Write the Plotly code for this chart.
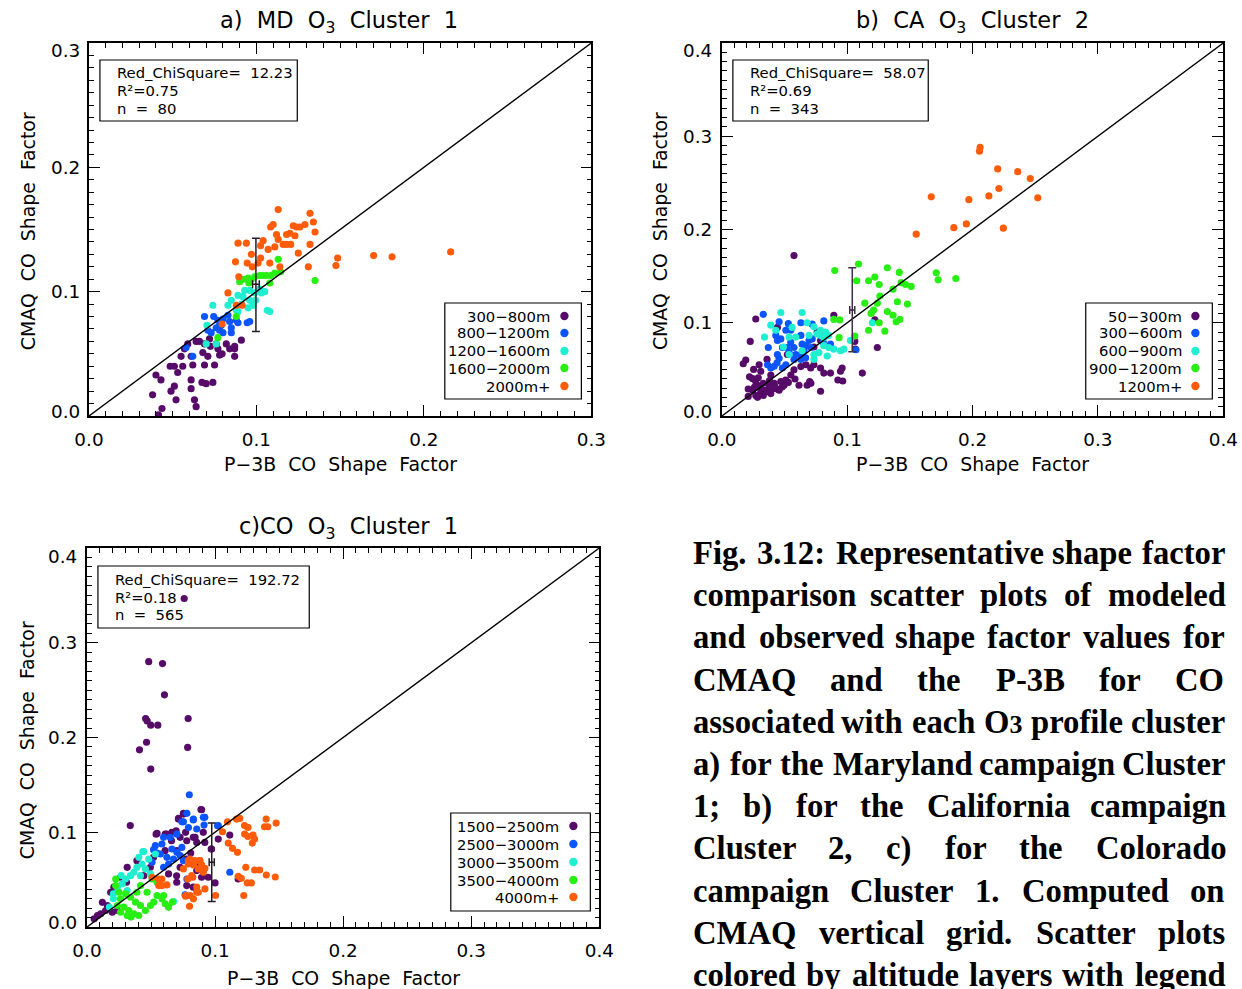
import plotly.graph_objects as go

# ---------------- DATA ----------------
a_labels = ["300−800m", "800−1200m", "1200−1600m", "1600−2000m", "2000m+"]
a_300_800 = [(0.0415,0.001),(0.0436,0.006),(0.038,0.017),(0.040,0.033),(0.043,0.029),(0.049,0.020),(0.051,0.024),
             (0.052,0.013),(0.0485,0.040),(0.051,0.040),(0.056,0.040),(0.053,0.035),(0.061,0.029),(0.061,0.022),
             (0.063,0.013),(0.064,0.0075),(0.062,0.041),(0.061,0.048),(0.055,0.048),(0.057,0.054),(0.059,0.058),
             (0.064,0.060),(0.066,0.060),(0.069,0.058),(0.068,0.051),(0.071,0.048),(0.069,0.041),(0.075,0.041),
             (0.0675,0.027),(0.070,0.026),(0.074,0.027),(0.077,0.054),(0.078,0.049),(0.082,0.058),(0.084,0.054),
             (0.087,0.054),(0.087,0.048),(0.087,0.056),(0.091,0.061),(0.076,0.058),(0.0725,0.056),(0.0795,0.050),
             (0.072,0.062)]
a_800_1200 = [(0.058,0.055),(0.062,0.048),(0.069,0.080),(0.071,0.069),(0.073,0.067),(0.076,0.071),(0.078,0.073),
              (0.077,0.077),(0.080,0.078),(0.083,0.081),(0.084,0.076),(0.085,0.071),(0.088,0.077),(0.089,0.075),
              (0.080,0.067),(0.078,0.069),(0.085,0.067),(0.0945,0.075),(0.096,0.076),(0.0745,0.080),(0.079,0.073)]
a_1200_1600 = [(0.0705,0.073),(0.074,0.089),(0.076,0.058),(0.083,0.089),(0.085,0.093),(0.088,0.085),(0.089,0.097),
               (0.092,0.096),(0.093,0.101),(0.096,0.101),(0.096,0.093),(0.095,0.087),(0.098,0.089),(0.099,0.099),
               (0.102,0.102),(0.103,0.099),(0.105,0.100),(0.0995,0.093),(0.1065,0.085),(0.108,0.084),(0.070,0.058),
               (0.089,0.084),(0.091,0.090)]
a_1600_2000 = [(0.077,0.063),(0.088,0.080),(0.090,0.108),(0.0925,0.110),(0.095,0.111),(0.097,0.110),(0.099,0.112),
               (0.102,0.113),(0.104,0.113),(0.106,0.113),(0.1085,0.113),(0.111,0.115),(0.1145,0.116),(0.113,0.126),
               (0.108,0.107),(0.135,0.109),(0.0955,0.107)]
a_2000_up = [(0.0795,0.074),(0.088,0.089),(0.0915,0.089),(0.083,0.099),(0.0895,0.112),(0.0875,0.124),(0.089,0.139),
             (0.094,0.139),(0.097,0.130),(0.0945,0.123),(0.0975,0.120),(0.1025,0.137),(0.1025,0.127),(0.101,0.123),
             (0.107,0.134),(0.108,0.123),(0.1085,0.152),(0.110,0.154),(0.113,0.166),(0.112,0.146),(0.113,0.142),
             (0.111,0.136),(0.114,0.120),(0.116,0.138),(0.118,0.138),(0.1205,0.138),(0.122,0.153),(0.124,0.152),
             (0.123,0.145),(0.125,0.131),(0.126,0.152),(0.129,0.154),(0.132,0.163),(0.134,0.156),(0.135,0.148),
             (0.132,0.138),(0.131,0.120),(0.1475,0.121),(0.1485,0.127),(0.170,0.129),(0.181,0.128),(0.216,0.132),
             (0.120,0.147),(0.118,0.146),(0.104,0.141)]
a_err = dict(x=0.0997, y=0.106, ex=0.002, ey_plus=0.037, ey_minus=0.038)
a_stats = ["Red_ChiSquare=  12.23", "R²=0.75", "n  =  80"]

b_labels = ["50−300m", "300−600m", "600−900m", "900−1200m", "1200m+"]
b_50_300 = [(0.0575,0.172),(0.027,0.104),(0.0226,0.080),(0.019,0.060),(0.017,0.056),(0.022,0.042),(0.0245,0.040),
            (0.027,0.037),(0.021,0.029),(0.0245,0.0276),(0.0284,0.033),(0.031,0.029),(0.0306,0.024),(0.027,0.022),
            (0.021,0.021),(0.0284,0.020),(0.033,0.022),(0.035,0.0276),(0.0377,0.033),(0.040,0.029),(0.0417,0.035),
            (0.044,0.029),(0.047,0.037),(0.0456,0.0276),(0.0496,0.033),(0.036,0.0607),(0.0297,0.055),(0.031,0.048),
            (0.039,0.044),(0.055,0.044),(0.0575,0.0496),(0.063,0.053),(0.067,0.055),(0.0708,0.0515),(0.0734,0.055),
            (0.0787,0.0515),(0.0813,0.046),(0.0866,0.046),(0.0893,0.108),(0.0959,0.0515),(0.0946,0.048),
            (0.0925,0.0386),(0.0964,0.0375),(0.106,0.080),(0.1065,0.0717),(0.124,0.0735),(0.112,0.046),
            (0.0583,0.0397),(0.0615,0.033),(0.068,0.033),(0.071,0.035),(0.0787,0.0265),(0.070,0.037),
            (0.0509,0.0386),(0.0787,0.081),(0.0734,0.074),(0.0443,0.095),(0.076,0.090),(0.0522,0.066),
            (0.0253,0.050),(0.039,0.024),(0.122,0.103),(0.033,0.035),(0.038,0.038),(0.042,0.032),(0.029,0.041),
            (0.036,0.026),(0.048,0.031),(0.053,0.036),(0.026,0.031)]
b_300_600 = [(0.033,0.109),(0.0456,0.101),(0.053,0.099),(0.063,0.100),(0.072,0.0985),(0.0813,0.102),(0.039,0.0515),
             (0.0364,0.055),(0.0417,0.0533),(0.044,0.057),(0.0456,0.0618),(0.0483,0.0515),(0.051,0.055),
             (0.0443,0.066),(0.0443,0.081),(0.047,0.0827),(0.043,0.0864),(0.0483,0.0735),(0.0522,0.0735),
             (0.0549,0.079),(0.0575,0.0735),(0.0536,0.068),(0.0589,0.066),(0.063,0.066),(0.0655,0.070),
             (0.064,0.077),(0.0668,0.0754),(0.0695,0.081),(0.072,0.0827),(0.0708,0.0735),(0.0668,0.0625),
             (0.063,0.0607),(0.0575,0.0607),(0.0549,0.092),(0.063,0.0864),(0.037,0.0735),(0.051,0.092),
             (0.0808,0.079),(0.0866,0.0772),(0.107,0.071)]
b_600_900 = [(0.047,0.111),(0.064,0.111),(0.039,0.0974),(0.043,0.092),(0.034,0.0846),(0.056,0.095),(0.068,0.100),
             (0.0734,0.0956),(0.076,0.088),(0.0787,0.0864),(0.0813,0.0838),(0.0827,0.090),(0.085,0.0864),
             (0.0787,0.092),(0.0695,0.0864),(0.0589,0.0846),(0.0536,0.0846),(0.049,0.074),(0.0536,0.066),
             (0.0734,0.066),(0.0774,0.068),(0.0813,0.0754),(0.0853,0.0735),(0.0893,0.0717),(0.0946,0.070),
             (0.0972,0.0717),(0.084,0.0643),(0.0734,0.0607),(0.1025,0.081),(0.120,0.100),(0.064,0.070)]
b_900_1200 = [(0.090,0.156),(0.109,0.163),(0.132,0.159),(0.1415,0.154),(0.1075,0.145),(0.117,0.145),(0.122,0.149),
              (0.1255,0.141),(0.143,0.143),(0.1465,0.141),(0.151,0.139),(0.1365,0.136),(0.126,0.1286),(0.114,0.121),
              (0.124,0.121),(0.140,0.1225),(0.148,0.120),(0.121,0.1136),(0.132,0.112),(0.1365,0.108),(0.119,0.110),
              (0.1255,0.100),(0.139,0.101),(0.142,0.1036),(0.0893,0.1036),(0.094,0.103),(0.0935,0.084),
              (0.117,0.092),(0.130,0.091),(0.171,0.1536),(0.1725,0.146),(0.1866,0.1475),(0.106,0.0857)]
b_1200_up = [(0.206,0.288),(0.2055,0.284),(0.220,0.265),(0.236,0.262),(0.246,0.2546),(0.221,0.244),(0.213,0.236),
             (0.197,0.232),(0.252,0.234),(0.167,0.235),(0.185,0.202),(0.195,0.206),(0.2245,0.2014),(0.155,0.195)]
b_err = dict(x=0.104, y=0.1136, ex=0.002, ey_plus=0.0454, ey_minus=0.0446)
b_stats = ["Red_ChiSquare=  58.07", "R²=0.69", "n  =  343"]

c_labels = ["1500−2500m", "2500−3000m", "3000−3500m", "3500−4000m", "4000m+"]
c_1500_2500 = [(0.0482,0.280),(0.059,0.278),(0.0605,0.245),(0.0458,0.220),(0.047,0.2175),(0.0498,0.213),
               (0.0553,0.213),(0.079,0.220),(0.0465,0.195),(0.041,0.187),(0.0786,0.1895),(0.0498,0.1667),
               (0.0759,0.3467),(0.0338,0.107),
               (0.089,0.124),(0.0753,0.120),(0.0715,0.1146),(0.0547,0.0988),(0.062,0.098),(0.066,0.091),
               (0.0696,0.1016),(0.0727,0.0946),(0.0779,0.091),(0.083,0.0946),(0.0857,0.0893),(0.0908,0.0999),
               (0.092,0.0893),(0.097,0.0823),(0.0810,0.078),(0.0774,0.0718),(0.0727,0.063),(0.070,0.054),
               (0.0637,0.056),(0.039,0.070),(0.0314,0.063),(0.0262,0.0525),(0.0309,0.0472),(0.021,0.042),
               (0.0185,0.0367),(0.0159,0.0227),(0.012,0.026),(0.0107,0.014),(0.0082,0.0121),(0.0056,0.0086),
               (0.0146,0.0174),(0.0198,0.0156),(0.0237,0.0174),(0.0443,0.0542),(0.0495,0.063),(0.0779,0.0437),
               (0.083,0.042),(0.0895,0.0525),(0.0947,0.0525),(0.0702,0.0806),(0.061,0.0806),(0.052,0.0735),
               (0.0857,0.0595),(0.0883,0.0665),(0.0895,0.1237),(0.1025,0.0928),(0.0973,0.0823),(0.1115,0.097),
               (0.100,0.0465),(0.118,0.0507),(0.0701,0.0472),(0.0844,0.0946),(0.077,0.0999),(0.0714,0.1139),
               (0.0753,0.1192),(0.0663,0.0999),(0.0611,0.0981),(0.054,0.098)]
c_2500_3000 = [(0.0799,0.1396),(0.078,0.120),(0.083,0.113),(0.0753,0.111),(0.0792,0.105),(0.0857,0.1034),
               (0.092,0.1157),(0.0914,0.1076),(0.1025,0.107),(0.0702,0.098),(0.065,0.0946),(0.0598,0.0946),
               (0.0585,0.0876),(0.0534,0.0858),(0.052,0.0816),(0.0573,0.077),(0.0624,0.0735),(0.0676,0.0718),
               (0.0637,0.0665),(0.0598,0.063),(0.0702,0.0788),(0.0741,0.084),(0.0753,0.070),(0.078,0.0507),
               (0.0766,0.0339),(0.1115,0.0578),(0.0547,0.0781),(0.0663,0.0823),(0.0728,0.0753),(0.0508,0.0683),
               (0.0741,0.111),(0.0831,0.1139),(0.0909,0.1157),(0.1020,0.1069)]
c_3000_3500 = [(0.0443,0.0795),(0.0482,0.0718),(0.0430,0.0665),(0.039,0.063),(0.0366,0.0578),(0.0456,0.0613),
               (0.034,0.0542),(0.030,0.0507),(0.0275,0.0455),(0.0237,0.042),(0.0206,0.035),(0.0418,0.0542),
               (0.0495,0.056),(0.0676,0.0269),(0.0405,0.0735),(0.0534,0.077),(0.0314,0.0385),(0.0436,0.0796),
               (0.0267,0.0544),(0.0206,0.030),(0.0175,0.021)]
c_3500_4000 = [(0.0224,0.0437),(0.025,0.0367),(0.0262,0.0297),(0.0237,0.0227),(0.0288,0.021),(0.0327,0.0174),
               (0.0366,0.0139),(0.0301,0.035),(0.034,0.0314),(0.0379,0.0262),(0.0418,0.0227),(0.0456,0.0174),
               (0.0495,0.0227),(0.0521,0.0262),(0.0547,0.0332),(0.0586,0.0297),(0.0611,0.0245),(0.0637,0.021),
               (0.0469,0.0367),(0.0508,0.0507),(0.0547,0.0472),(0.0418,0.0437),(0.039,0.0367),(0.0262,0.0156),
               (0.0404,0.0121),(0.0314,0.0121),(0.0224,0.0507),(0.0598,0.0332),(0.0667,0.0263),(0.0636,0.021),
               (0.0344,0.0105)]
c_4000_up = [(0.1097,0.111),(0.1167,0.1139),(0.1193,0.1146),(0.1058,0.1005),(0.123,0.107),(0.1257,0.1051),
             (0.1399,0.1139),(0.1477,0.1097),(0.1386,0.1058),(0.1412,0.1058),(0.1231,0.0981),(0.1257,0.0956),
             (0.1296,0.097),(0.1309,0.0928),(0.1291,0.0886),(0.1103,0.0886),(0.1136,0.083),(0.1175,0.0788),
             (0.124,0.063),(0.1309,0.0602),(0.1348,0.0602),(0.140,0.0549),(0.147,0.0528),(0.1181,0.0535),
             (0.1205,0.0514),(0.1252,0.0465),(0.1283,0.0465),(0.1224,0.0332),(0.1004,0.0332),(0.0801,0.0219),
             (0.0831,0.0297),(0.077,0.0325),(0.0869,0.0367),(0.0921,0.0402),(0.0818,0.0542),(0.0787,0.0507),
             (0.0844,0.070),(0.0882,0.070),(0.0895,0.0655),(0.0921,0.062),(0.0792,0.070),(0.0831,0.0655),
             (0.0869,0.0613),(0.0908,0.0578),(0.0753,0.0613),(0.0857,0.042),(0.0624,0.0444),(0.0585,0.0437),
             (0.0559,0.0507),(0.0508,0.0525),(0.0805,0.0718),(0.079,0.0665),(0.088,0.070),(0.0585,0.0507),
             (0.0560,0.0437),(0.0826,0.0525),(0.0805,0.0332),(0.0857,0.0367),(0.077,0.0332)]
c_err = dict(x=0.0974, y=0.0684, ex=0.002, ey_plus=0.0414, ey_minus=0.0414)
c_stats = ["Red_ChiSquare=  192.72", "R²=0.18", "n  =  565"]

colors = ["#560b68", "#0b55ff", "#20eed0", "#28ee14", "#ff5c0a"]

caption_lines = [
    "Fig. 3.12: Representative shape factor",
    "comparison scatter plots of modeled",
    "and observed shape factor values for",
    "CMAQ and the P-3B for CO",
    "associated with each O3 profile cluster",
    "a) for the Maryland campaign Cluster",
    "1; b) for the California campaign",
    "Cluster 2, c) for the Colorado",
    "campaign Cluster 1. Computed on",
    "CMAQ vertical grid. Scatter plots",
    "colored by altitude layers with legend",
]

# ---------------- LAYOUT HELPERS ----------------
# Positions are measured in reference-picture pixels; the photographed page is
# compressed horizontally (~0.979, with a ~13px side band), so convert.
W, H = 1242, 989
SX, BX = 0.979, 12.8
K = 1 / SX


def fx(r):
    return ((r - BX) / SX) / W


def fy(r):
    return 1 - r / H


def fs(v):
    return v * K


SANS = "DejaVu Sans"
fig = go.Figure()

panels = [
    dict(ax="", box=(87, 591, 43, 416), vmax=0.3,
         groups=[a_300_800, a_800_1200, a_1200_1600, a_1600_2000, a_2000_up],
         labels=a_labels, err=a_err, errc="#2a1a2e", stats=a_stats,
         title="a)\u00a0 MD\u00a0 O<sub>3</sub>\u00a0 Cluster\u00a0 1", tpos=(338, 22),
         xt=(339, 464), yt=(26, 231), ylab_r=80,
         sbox=(98, 296, 60, 121), stx=113, sty=(73, 90, 108),
         lbox=(444, 581, 303, 399), ltx=552, ldx=564, lys=(316, 333, 351, 368, 386)),
    dict(ax="2", box=(722, 1225, 43, 416), vmax=0.4,
         groups=[b_50_300, b_300_600, b_600_900, b_900_1200, b_1200_up],
         labels=b_labels, err=b_err, errc="#3e2f44", stats=b_stats,
         title="b)\u00a0 CA\u00a0 O<sub>3</sub>\u00a0 Cluster\u00a0 2", tpos=(973, 22),
         xt=(973, 464), yt=(660, 231), ylab_r=714,
         sbox=(733, 929, 60, 121), stx=748, sty=(73, 90, 108),
         lbox=(1087, 1214, 303, 399), ltx=1186, ldx=1197, lys=(316, 333, 351, 368, 386)),
    dict(ax="3", box=(85, 599, 548, 927), vmax=0.4,
         groups=[c_1500_2500, c_2500_3000, c_3000_3500, c_3500_4000, c_4000_up],
         labels=c_labels, err=c_err, errc="#221a22", stats=c_stats,
         title="c)CO\u00a0 O<sub>3</sub>\u00a0 Cluster\u00a0 1", tpos=(347, 528),
         xt=(342, 978), yt=(25, 740), ylab_r=77,
         sbox=(96, 308, 566, 628), stx=111, sty=(579, 597, 614),
         lbox=(450, 590, 813, 911), ltx=561, ldx=573, lys=(826, 844, 862, 880, 897)),
]

annotations = []
shapes = []
layout_axes = {}

for p in panels:
    ax = p["ax"]
    xa, ya = "x" + ax, "y" + ax
    x0, x1, y0, y1 = p["box"]
    vmax = p["vmax"]
    nt = int(round(vmax / 0.1)) + 1
    tv = [round(i * 0.1, 1) for i in range(nt)]
    tt = ["%.1f" % v for v in tv]
    common = dict(range=[0, vmax], tickvals=tv, ticktext=tt, ticks="inside", ticklen=11,
                  tickwidth=1.4, tickcolor="black", showline=True, linecolor="black",
                  linewidth=1.6, mirror="ticks", showgrid=False, zeroline=False,
                  tickfont=dict(family=SANS, size=fs(18), color="black"),
                  minor=dict(dtick=0.01, tick0=0, ticks="inside", ticklen=5, tickwidth=1.1,
                             tickcolor="black", showgrid=False))
    layout_axes["xaxis" + ax] = dict(common, domain=[fx(x0), fx(x1)], anchor=ya, ticklabelstandoff=6)
    layout_axes["yaxis" + ax] = dict(common, domain=[fy(y1), fy(y0)], anchor=xa, showticklabels=False)

    # y tick labels (end labels nudged inside the frame, as in the original)
    for v, t in zip(tv, tt):
        shift = 0
        if v == tv[0]:
            shift = 5
        elif v == tv[-1]:
            shift = -8
        annotations.append(dict(x=fx(p["ylab_r"]), y=v, xref="paper", yref=ya, text=t,
                                showarrow=False, xanchor="right", yanchor="middle", yshift=shift,
                                font=dict(family=SANS, size=fs(18), color="black")))

    for g, lab, col in zip(p["groups"], p["labels"], colors):
        fig.add_trace(go.Scatter(x=[q[0] for q in g], y=[q[1] for q in g], mode="markers",
                                 marker=dict(size=fs(7), color=col, line=dict(width=0)),
                                 xaxis=xa, yaxis=ya, name=lab, showlegend=False))
    fig.add_trace(go.Scatter(x=[0, vmax], y=[0, vmax], mode="lines",
                             line=dict(color="black", width=1.4), xaxis=xa, yaxis=ya, showlegend=False))
    e = p["err"]
    fig.add_trace(go.Scatter(x=[e["x"]], y=[e["y"]], mode="markers",
                             marker=dict(size=2, color=p["errc"]),
                             error_y=dict(type="data", symmetric=False, array=[e["ey_plus"]],
                                          arrayminus=[e["ey_minus"]], color=p["errc"], thickness=1.5, width=4),
                             error_x=dict(type="data", array=[e["ex"]], color=p["errc"], thickness=1.5, width=4),
                             xaxis=xa, yaxis=ya, showlegend=False))

    annotations.append(dict(x=fx(p["tpos"][0]), y=fy(p["tpos"][1]), xref="paper", yref="paper",
                            text=p["title"], showarrow=False, xanchor="center", yanchor="middle",
                            font=dict(family=SANS, size=fs(22), color="black")))
    annotations.append(dict(x=fx(p["xt"][0]), y=fy(p["xt"][1]), xref="paper", yref="paper",
                            text="P−3B\u00a0 CO\u00a0 Shape\u00a0 Factor", showarrow=False,
                            xanchor="center", yanchor="middle",
                            font=dict(family=SANS, size=fs(18.5), color="black")))
    annotations.append(dict(x=fx(p["yt"][0]), y=fy(p["yt"][1]), xref="paper", yref="paper",
                            text="CMAQ\u00a0 CO\u00a0 Shape\u00a0 Factor", showarrow=False, textangle=-90,
                            xanchor="center", yanchor="middle",
                            font=dict(family=SANS, size=fs(18.5), color="black")))

    sx0, sx1, sy0, sy1 = p["sbox"]
    shapes.append(dict(type="rect", xref="paper", yref="paper", x0=fx(sx0), x1=fx(sx1),
                       y0=fy(sy1), y1=fy(sy0), line=dict(color="black", width=1.2),
                       fillcolor="rgba(0,0,0,0)"))
    for txt, yy in zip(p["stats"], p["sty"]):
        annotations.append(dict(x=fx(p["stx"]), y=fy(yy), xref="paper", yref="paper", text=txt,
                                showarrow=False, xanchor="left", yanchor="middle",
                                font=dict(family=SANS, size=fs(14.5), color="black")))

    lx0, lx1, ly0, ly1 = p["lbox"]
    shapes.append(dict(type="rect", xref="paper", yref="paper", x0=fx(lx0), x1=fx(lx1),
                       y0=fy(ly1), y1=fy(ly0), line=dict(color="black", width=1.2),
                       fillcolor="white", layer="above"))
    for lab, col, yy in zip(p["labels"], colors, p["lys"]):
        annotations.append(dict(x=fx(p["ltx"]), y=fy(yy), xref="paper", yref="paper", text=lab,
                                showarrow=False, xanchor="right", yanchor="middle",
                                font=dict(family=SANS, size=fs(14.5), color="black")))
        r = 4.2
        shapes.append(dict(type="circle", xref="paper", yref="paper",
                           x0=fx(p["ldx"] - r), x1=fx(p["ldx"] + r),
                           y0=fy(yy + r), y1=fy(yy - r), fillcolor=col,
                           line=dict(color=col, width=0), layer="above"))

# ---------------- CAPTION (justified, Times-Bold metrics) ----------------
TB = {" ": 250, ".": 250, ",": 250, ":": 333, ";": 333, "-": 333, "(": 333, ")": 333,
      "0": 500, "1": 500, "2": 500, "3": 500, "4": 500, "5": 500, "6": 500, "7": 500, "8": 500, "9": 500,
      "A": 722, "B": 667, "C": 722, "D": 722, "E": 667, "F": 611, "G": 778, "H": 778, "I": 389, "J": 500,
      "K": 778, "L": 667, "M": 944, "N": 722, "O": 778, "P": 611, "Q": 778, "R": 722, "S": 556, "T": 667,
      "U": 722, "V": 722, "W": 1000, "X": 722, "Y": 722, "Z": 667,
      "a": 500, "b": 556, "c": 444, "d": 556, "e": 444, "f": 333, "g": 500, "h": 556, "i": 278, "j": 333,
      "k": 556, "l": 278, "m": 833, "n": 556, "o": 500, "p": 556, "q": 556, "r": 444, "s": 389, "t": 333,
      "u": 556, "v": 500, "w": 722, "x": 500, "y": 500, "z": 444}
CFS = 32
CX0, CX1 = 693, 1225
for i, line in enumerate(caption_lines):
    words = line.split(" ")
    widths = []
    for w in words:
        if w == "O3":
            widths.append((TB["O"] + 0.75 * TB["3"]) * CFS / 1000)
        else:
            widths.append(sum(TB.get(ch, 500) for ch in w) * CFS / 1000)
    gap = (CX1 - CX0 - sum(widths)) / (len(words) - 1)
    xcur = CX0
    yy = 553 + 42.2 * i
    for w, wd in zip(words, widths):
        txt = "O<span style='font-size:%dpx'>3</span>" % round(fs(25)) if w == "O3" else w
        annotations.append(dict(x=fx(xcur - 2), y=fy(yy), xref="paper", yref="paper", text=txt,
                                showarrow=False, xanchor="left", yanchor="middle",
                                font=dict(family="Liberation Serif", size=fs(CFS), color="black",
                                          weight="bold")))
        xcur += wd + gap

fig.update_layout(width=W, height=H, autosize=False, margin=dict(l=0, r=0, t=0, b=0),
                  paper_bgcolor="white", plot_bgcolor="white", showlegend=False,
                  annotations=annotations, shapes=shapes, **layout_axes)

fig.write_html("out.html", config={"displayModeBar": False},
               post_script="document.body.style.margin='0';document.body.style.overflow='hidden';")
